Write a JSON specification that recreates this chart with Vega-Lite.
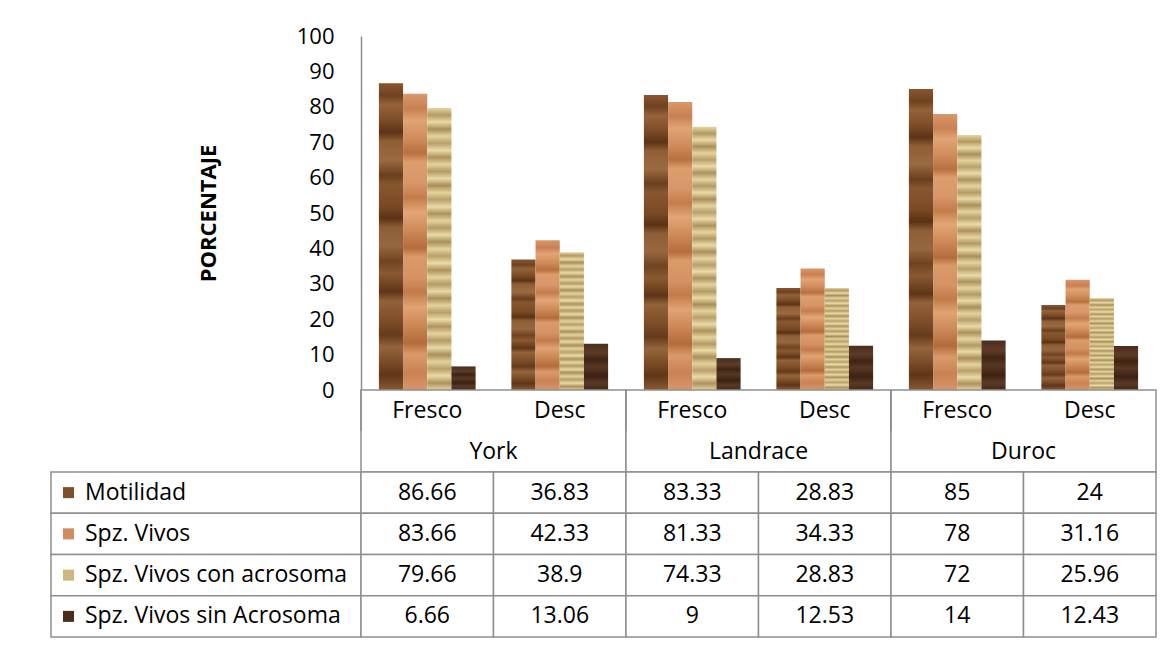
{
  "$schema": "https://vega.github.io/schema/vega-lite/v6.json",
  "autosize": {"type": "pad"},
  "padding": {"left": 50, "top": 25, "right": 0, "bottom": 0},
  "background": "white",
  "config": {"view": {"stroke": null}, "font": "Open Sans"},
  "datasets": {
    "vals": [
      {"breed": "York", "cond": "Fresco", "col": "York-Fresco", "series": "Motilidad", "value": 86.66},
      {"breed": "York", "cond": "Fresco", "col": "York-Fresco", "series": "Spz. Vivos", "value": 83.66},
      {"breed": "York", "cond": "Fresco", "col": "York-Fresco", "series": "Spz. Vivos con acrosoma", "value": 79.66},
      {"breed": "York", "cond": "Fresco", "col": "York-Fresco", "series": "Spz. Vivos sin Acrosoma", "value": 6.66},
      {"breed": "York", "cond": "Desc", "col": "York-Desc", "series": "Motilidad", "value": 36.83},
      {"breed": "York", "cond": "Desc", "col": "York-Desc", "series": "Spz. Vivos", "value": 42.33},
      {"breed": "York", "cond": "Desc", "col": "York-Desc", "series": "Spz. Vivos con acrosoma", "value": 38.9},
      {"breed": "York", "cond": "Desc", "col": "York-Desc", "series": "Spz. Vivos sin Acrosoma", "value": 13.06},
      {"breed": "Landrace", "cond": "Fresco", "col": "Landrace-Fresco", "series": "Motilidad", "value": 83.33},
      {"breed": "Landrace", "cond": "Fresco", "col": "Landrace-Fresco", "series": "Spz. Vivos", "value": 81.33},
      {"breed": "Landrace", "cond": "Fresco", "col": "Landrace-Fresco", "series": "Spz. Vivos con acrosoma", "value": 74.33},
      {"breed": "Landrace", "cond": "Fresco", "col": "Landrace-Fresco", "series": "Spz. Vivos sin Acrosoma", "value": 9},
      {"breed": "Landrace", "cond": "Desc", "col": "Landrace-Desc", "series": "Motilidad", "value": 28.83},
      {"breed": "Landrace", "cond": "Desc", "col": "Landrace-Desc", "series": "Spz. Vivos", "value": 34.33},
      {"breed": "Landrace", "cond": "Desc", "col": "Landrace-Desc", "series": "Spz. Vivos con acrosoma", "value": 28.83},
      {"breed": "Landrace", "cond": "Desc", "col": "Landrace-Desc", "series": "Spz. Vivos sin Acrosoma", "value": 12.53},
      {"breed": "Duroc", "cond": "Fresco", "col": "Duroc-Fresco", "series": "Motilidad", "value": 85},
      {"breed": "Duroc", "cond": "Fresco", "col": "Duroc-Fresco", "series": "Spz. Vivos", "value": 78},
      {"breed": "Duroc", "cond": "Fresco", "col": "Duroc-Fresco", "series": "Spz. Vivos con acrosoma", "value": 72},
      {"breed": "Duroc", "cond": "Fresco", "col": "Duroc-Fresco", "series": "Spz. Vivos sin Acrosoma", "value": 14},
      {"breed": "Duroc", "cond": "Desc", "col": "Duroc-Desc", "series": "Motilidad", "value": 24},
      {"breed": "Duroc", "cond": "Desc", "col": "Duroc-Desc", "series": "Spz. Vivos", "value": 31.16},
      {"breed": "Duroc", "cond": "Desc", "col": "Duroc-Desc", "series": "Spz. Vivos con acrosoma", "value": 25.96},
      {"breed": "Duroc", "cond": "Desc", "col": "Duroc-Desc", "series": "Spz. Vivos sin Acrosoma", "value": 12.43}
    ]
  },
  "columns": 2,
  "spacing": 0,
  "bounds": "flush",
  "align": "each",
  "concat": [
    {
      "width": 310, "height": 354,
      "data": {"values": [{}]},
      "mark": {"type": "text", "text": ""}
    },
    {
      "width": 795, "height": 354,
      "data": {"name": "vals"},
      "encoding": {
        "x": {"field": "col", "type": "nominal", "sort": ["York-Fresco", "York-Desc", "Landrace-Fresco", "Landrace-Desc", "Duroc-Fresco", "Duroc-Desc"], "scale": {"paddingInner": 0.27, "paddingOuter": 0.135}, "axis": null},
        "xOffset": {"field": "series", "type": "nominal", "scale": {"domain": ["Motilidad", "Spz. Vivos", "Spz. Vivos con acrosoma", "Spz. Vivos sin Acrosoma"], "paddingInner": 0, "paddingOuter": 0}},
        "y": {"field": "value", "type": "quantitative", "scale": {"domain": [0, 100], "nice": false},
          "axis": {"values": [0, 10, 20, 30, 40, 50, 60, 70, 80, 90, 100], "title": "PORCENTAJE", "titleFontSize": 22, "titleFontWeight": "bold", "titleColor": "black", "titlePadding": 76, "labelFontSize": 22, "labelColor": "black", "labelPadding": 27, "ticks": false, "grid": false, "domainColor": "#8e8e8e", "domainWidth": 1.5}}
      },
      "layer": [
        {
          "transform": [{"filter": "datum.series === 'Motilidad'"}],
          "mark": {"type": "bar", "fill": {"gradient": "linear", "x1": 0, "y1": 0, "x2": 0, "y2": 1, "stops": [
            {"offset": 0, "color": "#8a5530"}, {"offset": 0.04, "color": "#6e421f"}, {"offset": 0.07, "color": "#94633a"},
            {"offset": 0.12, "color": "#7d4d28"}, {"offset": 0.16, "color": "#5c3416"}, {"offset": 0.19, "color": "#8f5e35"},
            {"offset": 0.25, "color": "#9b6b40"}, {"offset": 0.3, "color": "#6a3f1e"}, {"offset": 0.33, "color": "#87582f"},
            {"offset": 0.4, "color": "#7a4a25"}, {"offset": 0.44, "color": "#5a3214"}, {"offset": 0.47, "color": "#8e5f36"},
            {"offset": 0.53, "color": "#976740"}, {"offset": 0.58, "color": "#704420"}, {"offset": 0.62, "color": "#8a5a31"},
            {"offset": 0.68, "color": "#5e3518"}, {"offset": 0.71, "color": "#926238"}, {"offset": 0.77, "color": "#7f4f2a"},
            {"offset": 0.82, "color": "#653b1b"}, {"offset": 0.86, "color": "#95653c"}, {"offset": 0.91, "color": "#7a4b27"},
            {"offset": 0.95, "color": "#5f3618"}, {"offset": 1, "color": "#8a5a33"}]}}
        },
        {
          "transform": [{"filter": "datum.series === 'Spz. Vivos'"}],
          "mark": {"type": "bar", "fill": {"gradient": "linear", "x1": 0, "y1": 0, "x2": 0, "y2": 1, "stops": [
            {"offset": 0, "color": "#d99868"}, {"offset": 0.05, "color": "#c98052"}, {"offset": 0.09, "color": "#e0a474"},
            {"offset": 0.15, "color": "#d08c5b"}, {"offset": 0.2, "color": "#b8703f"}, {"offset": 0.23, "color": "#dc9e6c"},
            {"offset": 0.3, "color": "#d8966a"}, {"offset": 0.35, "color": "#c47c4c"}, {"offset": 0.4, "color": "#e2a676"},
            {"offset": 0.46, "color": "#cf8a59"}, {"offset": 0.52, "color": "#b56c3c"}, {"offset": 0.55, "color": "#da9a69"},
            {"offset": 0.62, "color": "#d59264"}, {"offset": 0.67, "color": "#c27a4a"}, {"offset": 0.72, "color": "#e0a373"},
            {"offset": 0.78, "color": "#cd8857"}, {"offset": 0.84, "color": "#b36b3b"}, {"offset": 0.88, "color": "#d99a6a"},
            {"offset": 0.94, "color": "#c98253"}, {"offset": 1, "color": "#d8966a"}]}}
        },
        {
          "transform": [{"filter": "datum.series === 'Spz. Vivos con acrosoma'"}],
          "mark": {"type": "bar", "fill": {"gradient": "linear", "x1": 0, "y1": 0, "x2": 0, "y2": 1, "stops": [
            {"offset": 0, "color": "#e6d5a0"}, {"offset": 0.025, "color": "#b39a63"}, {"offset": 0.05, "color": "#e8d9a6"},
            {"offset": 0.075, "color": "#a98f58"}, {"offset": 0.1, "color": "#e3d29c"}, {"offset": 0.125, "color": "#b8a06a"},
            {"offset": 0.15, "color": "#e9daa8"}, {"offset": 0.175, "color": "#ad935c"}, {"offset": 0.2, "color": "#e4d39e"},
            {"offset": 0.225, "color": "#b39a63"}, {"offset": 0.25, "color": "#e8d9a6"}, {"offset": 0.275, "color": "#a98f58"},
            {"offset": 0.3, "color": "#e3d29c"}, {"offset": 0.325, "color": "#b8a06a"}, {"offset": 0.35, "color": "#e9daa8"},
            {"offset": 0.375, "color": "#ad935c"}, {"offset": 0.4, "color": "#e4d39e"}, {"offset": 0.425, "color": "#b39a63"},
            {"offset": 0.45, "color": "#e8d9a6"}, {"offset": 0.475, "color": "#a98f58"}, {"offset": 0.5, "color": "#e3d29c"},
            {"offset": 0.525, "color": "#b8a06a"}, {"offset": 0.55, "color": "#e9daa8"}, {"offset": 0.575, "color": "#ad935c"},
            {"offset": 0.6, "color": "#e4d39e"}, {"offset": 0.625, "color": "#b39a63"}, {"offset": 0.65, "color": "#e8d9a6"},
            {"offset": 0.675, "color": "#a98f58"}, {"offset": 0.7, "color": "#e3d29c"}, {"offset": 0.725, "color": "#b8a06a"},
            {"offset": 0.75, "color": "#e9daa8"}, {"offset": 0.775, "color": "#ad935c"}, {"offset": 0.8, "color": "#e4d39e"},
            {"offset": 0.825, "color": "#b39a63"}, {"offset": 0.85, "color": "#e8d9a6"}, {"offset": 0.875, "color": "#a98f58"},
            {"offset": 0.9, "color": "#e3d29c"}, {"offset": 0.925, "color": "#b8a06a"}, {"offset": 0.95, "color": "#e9daa8"},
            {"offset": 0.975, "color": "#ad935c"}, {"offset": 1, "color": "#e4d39e"}]}}
        },
        {
          "transform": [{"filter": "datum.series === 'Spz. Vivos sin Acrosoma'"}],
          "mark": {"type": "bar", "fill": {"gradient": "linear", "x1": 0, "y1": 0, "x2": 0, "y2": 1, "stops": [
            {"offset": 0, "color": "#4a2d1b"}, {"offset": 0.2, "color": "#5d3c27"}, {"offset": 0.35, "color": "#3e2414"},
            {"offset": 0.5, "color": "#573823"}, {"offset": 0.7, "color": "#3c2213"}, {"offset": 0.85, "color": "#5a3a25"},
            {"offset": 1, "color": "#45291a"}]}}
        }
      ]
    },
    {
      "width": 310, "height": 82,
      "data": {"values": [{}]},
      "mark": {"type": "text", "text": ""}
    },
    {
      "width": 795, "height": 82,
      "data": {"name": "vals"},
      "transform": [{"aggregate": [{"op": "count", "as": "n"}], "groupby": ["breed", "cond", "col"]}],
      "layer": [
        {
          "transform": [{"filter": "datum.cond === 'Fresco'"}],
          "mark": {"type": "rect", "fill": "white", "stroke": "#8e8e8e", "strokeWidth": 1.5},
          "encoding": {
            "x": {"field": "breed", "type": "nominal", "sort": ["York", "Landrace", "Duroc"], "scale": {"paddingInner": 0, "paddingOuter": 0}, "axis": null},
            "y": {"datum": 0, "type": "quantitative", "scale": {"domain": [0, 2], "nice": false}, "axis": null},
            "y2": {"datum": 2}
          }
        },
        {
          "transform": [{"filter": "datum.cond === 'Desc'"}],
          "mark": {"type": "rule", "stroke": "#8e8e8e", "strokeWidth": 1.5},
          "encoding": {
            "x": {"field": "col", "type": "nominal", "bandPosition": 0, "sort": ["York-Fresco", "York-Desc", "Landrace-Fresco", "Landrace-Desc", "Duroc-Fresco", "Duroc-Desc"], "scale": {"paddingInner": 0, "paddingOuter": 0}, "axis": null},
            "y": {"datum": 1, "type": "quantitative", "scale": {"domain": [0, 2], "nice": false}, "axis": null},
            "y2": {"datum": 2}
          }
        },
        {
          "mark": {"type": "text", "fontSize": 23, "color": "black"},
          "encoding": {
            "x": {"field": "col", "type": "nominal", "sort": ["York-Fresco", "York-Desc", "Landrace-Fresco", "Landrace-Desc", "Duroc-Fresco", "Duroc-Desc"], "scale": {"paddingInner": 0, "paddingOuter": 0}, "axis": null},
            "y": {"datum": 1.5, "type": "quantitative", "scale": {"domain": [0, 2], "nice": false}, "axis": null},
            "text": {"field": "cond"}
          }
        },
        {
          "transform": [{"filter": "datum.cond === 'Fresco'"}],
          "mark": {"type": "text", "fontSize": 23, "color": "black"},
          "encoding": {
            "x": {"field": "breed", "type": "nominal", "sort": ["York", "Landrace", "Duroc"], "scale": {"paddingInner": 0, "paddingOuter": 0}, "axis": null},
            "y": {"datum": 0.5, "type": "quantitative", "scale": {"domain": [0, 2], "nice": false}, "axis": null},
            "text": {"field": "breed"}
          }
        }
      ],
      "resolve": {"scale": {"x": "independent"}}
    },
    {
      "width": 310, "height": 165,
      "data": {"name": "vals"},
      "transform": [{"filter": "datum.col === 'York-Fresco'"}],
      "encoding": {
        "y": {"field": "series", "type": "nominal", "sort": ["Motilidad", "Spz. Vivos", "Spz. Vivos con acrosoma", "Spz. Vivos sin Acrosoma"], "scale": {"paddingInner": 0, "paddingOuter": 0}, "axis": null}
      },
      "layer": [
        {"mark": {"type": "rect", "fill": "white", "stroke": "#8e8e8e", "strokeWidth": 1.5}},
        {
          "mark": {"type": "point", "shape": "square", "filled": true, "size": 121, "opacity": 1},
          "encoding": {
            "x": {"value": 17.5},
            "color": {"field": "series", "type": "nominal", "scale": {"domain": ["Motilidad", "Spz. Vivos", "Spz. Vivos con acrosoma", "Spz. Vivos sin Acrosoma"], "range": ["#7f4f2a", "#d08c5b", "#cdb77f", "#4a2d1b"]}, "legend": null}
          }
        },
        {
          "mark": {"type": "text", "align": "left", "fontSize": 23, "color": "black"},
          "encoding": {
            "x": {"value": 34},
            "text": {"field": "series"}
          }
        }
      ]
    },
    {
      "width": 795, "height": 165,
      "data": {"name": "vals"},
      "encoding": {
        "x": {"field": "col", "type": "nominal", "sort": ["York-Fresco", "York-Desc", "Landrace-Fresco", "Landrace-Desc", "Duroc-Fresco", "Duroc-Desc"], "scale": {"paddingInner": 0, "paddingOuter": 0}, "axis": null},
        "y": {"field": "series", "type": "nominal", "sort": ["Motilidad", "Spz. Vivos", "Spz. Vivos con acrosoma", "Spz. Vivos sin Acrosoma"], "scale": {"paddingInner": 0, "paddingOuter": 0}, "axis": null}
      },
      "layer": [
        {"mark": {"type": "rect", "fill": "white", "stroke": "#8e8e8e", "strokeWidth": 1.5}},
        {
          "mark": {"type": "text", "fontSize": 23, "color": "black"},
          "encoding": {"text": {"field": "value", "type": "nominal"}}
        }
      ]
    }
  ]
}
